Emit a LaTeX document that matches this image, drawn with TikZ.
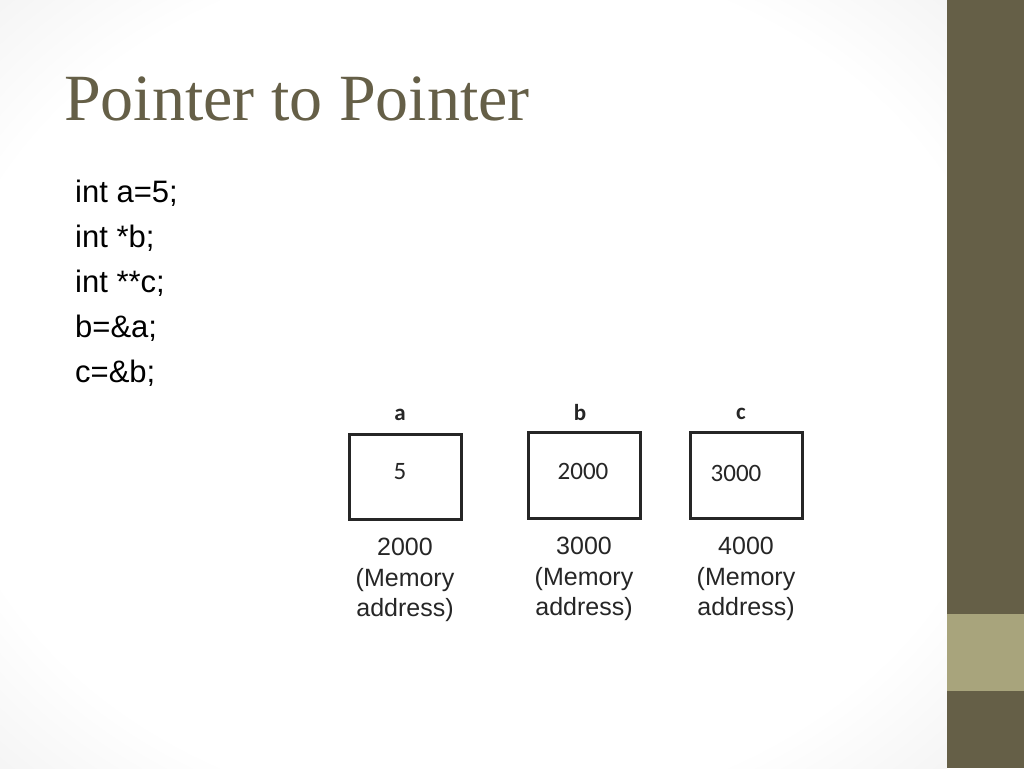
\documentclass[tikz,border=0pt]{standalone}
\usepackage{fontspec}
\newfontfamily\arialfont{Liberation Sans}
\newfontfamily\calibrifont{Carlito}
\newfontfamily\titlefont{Liberation Serif}
\definecolor{olivedark}{HTML}{655F47}
\definecolor{olivelight}{HTML}{A8A47C}
\definecolor{boxline}{HTML}{262626}
\pgfdeclareradialshading{vignette}{\pgfpoint{0bp}{0bp}}{color(0bp)=(white); color(28bp)=(white); color(50bp)=(black!12); color(72bp)=(black!22)}
\tikzset{
  codeline/.style={anchor=base west, inner sep=0pt, font=\arialfont\fontsize{31}{36}\selectfont, text=black},
  varname/.style={inner sep=0pt, font=\calibrifont\bfseries\fontsize{23}{26}\selectfont, text=boxline},
  cellval/.style={inner sep=0pt, font=\calibrifont\fontsize{25}{28}\selectfont, text=boxline},
  addr/.style={inner sep=0pt, align=center, font=\arialfont\fontsize{25}{30.5}\selectfont, text=boxline},
  cell/.style={draw=boxline, line width=3pt}
}
\begin{document}
\begin{tikzpicture}[x=1pt, y=-1pt]
\useasboundingbox (0,0) rectangle (1024,768);
\shade[shading=vignette] (0,0) rectangle (947,768);
\fill[olivedark] (947,0) rectangle (1024,768);
\fill[olivelight] (947,614) rectangle (1024,691);
% title
\node[anchor=base west, inner sep=0pt, text=olivedark, font=\titlefont\fontsize{66}{76}\selectfont] (title) at (64,120) {Pointer to Pointer};
% code
\node[codeline] (line1) at (75,202) {int a=5;};
\node[codeline] (line2) at (75,247) {int *b;};
\node[codeline] (line3) at (75,292) {int **c;};
\node[codeline] (line4) at (75,337) {b=\&a;};
\node[codeline] (line5) at (75,382) {c=\&b;};
% memory cells
\draw[cell] (349,434) rectangle (461,519);
\draw[cell] (528,432) rectangle (640,518);
\draw[cell] (690,432) rectangle (802,518);
\node[varname] (namea) at (400,415) {a};
\node[varname] (nameb) at (580,413) {b};
\node[varname] (namec) at (741,414) {c};
\node[cellval] (vala) at (400,472) {5};
\node[cellval] (valb) at (583,471) {2000};
\node[cellval] (valc) at (736,473) {3000};
\node[addr] (addra) at (405,580) {2000\\(Memory\\address)};
\node[addr] (addrb) at (584,579) {3000\\(Memory\\address)};
\node[addr] (addrc) at (746,579) {4000\\(Memory\\address)};
\end{tikzpicture}
\end{document}
